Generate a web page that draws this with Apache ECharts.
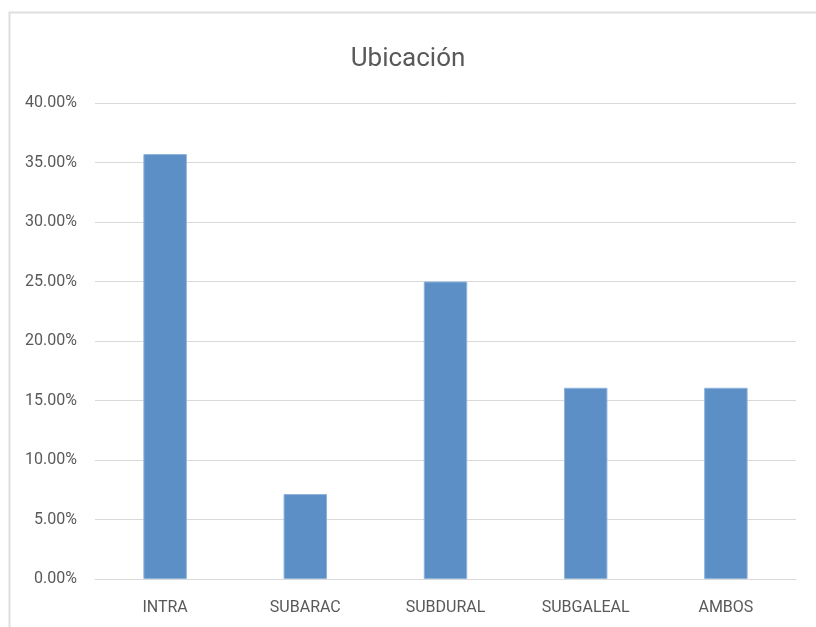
<!DOCTYPE html>
<html>
<head>
<meta charset="utf-8">
<script src="https://cdn.jsdelivr.net/npm/echarts@6/dist/echarts.min.js"></script>
<style>
  html, body { margin: 0; padding: 0; background: #fff; }
  #chart { width: 816px; height: 627px; }
</style>
</head>
<body>
<div id="chart"></div>
<script>
// Location of lesion, share of cases (%)
const categories = ['INTRA', 'SUBARAC', 'SUBDURAL', 'SUBGALEAL', 'AMBOS'];
const shares = [35.71, 7.14, 25.00, 16.07, 16.07];
const chartTitle = 'Ubicación';

const font = 'Roboto, "Open Sans", sans-serif';
const textGray = '#595959';
const chart = echarts.init(document.getElementById('chart'), null, { renderer: 'canvas' });

chart.setOption({
  backgroundColor: '#ffffff',
  animation: false,
  graphic: [{
    type: 'rect',
    shape: { x: 9.5, y: 12.5, width: 900, height: 700 },
    style: { fill: 'none', stroke: '#dedede', lineWidth: 2 },
    silent: true
  }],
  title: {
    text: chartTitle,
    left: 'center',
    top: 41,
    textStyle: { fontFamily: font, fontSize: 26, fontWeight: 'normal', color: textGray }
  },
  grid: { left: 95, right: 20, top: 103, bottom: 48, containLabel: false },
  xAxis: {
    type: 'category',
    data: categories,
    axisLine: { lineStyle: { color: '#d9d9d9', width: 1 } },
    axisTick: { show: false },
    axisLabel: { color: textGray, fontFamily: font, fontSize: 16, margin: 21 }
  },
  yAxis: {
    type: 'value',
    min: 0,
    max: 40,
    interval: 5,
    axisLine: { show: false },
    axisTick: { show: false },
    splitLine: { lineStyle: { color: '#d9d9d9', width: 1 } },
    axisLabel: {
      color: textGray, fontFamily: font, fontSize: 16, margin: 18,
      padding: [7, 0, 0, 0],
      formatter: v => v.toFixed(2) + '%'
    }
  },
  series: [{
    type: 'bar',
    data: shares,
    barWidth: '31%',
    itemStyle: { color: '#5b8fc6', borderColor: '#8fb4dc', borderWidth: 1 }
  }]
});
</script>
</body>
</html>
